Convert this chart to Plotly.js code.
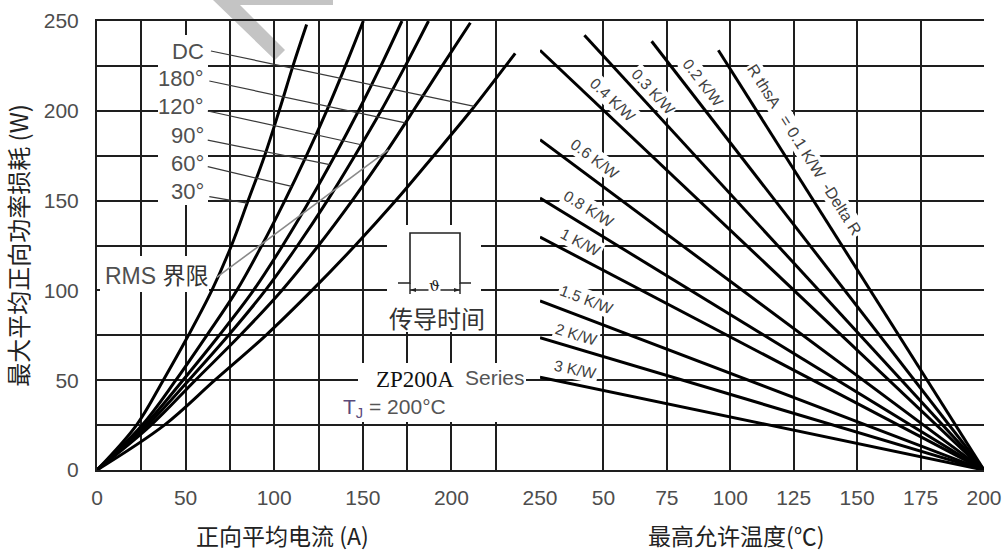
<!DOCTYPE html>
<html>
<head>
<meta charset="utf-8">
<script src="https://cdn.plot.ly/plotly-3.0.1.min.js"></script>
<style>html,body{margin:0;padding:0;background:#fff;}#chart{width:1005px;height:552px;}</style>
</head>
<body>
<div id="chart"></div>
<script>
// ---------- DATA ----------
// Left panel: max average forward power loss (W) vs average forward current (A)
const curveNames = ['30°', '60°', '90°', '120°', '180°', 'DC'];
const i30  = [0, 22.3, 37.4, 51.6, 64.8, 75.9, 85.3, 94.6, 102.8, 110.6, 118.3];
const p30  = [0, 25, 50, 75, 100, 125, 150, 175, 200, 225, 248];
const i60  = [0, 25.5, 44.5, 62, 78.9, 93, 106, 118.2, 129.6, 140.2, 150.3];
const p60  = [0, 25, 50, 75, 100, 125, 150, 175, 200, 225, 250];
const i90  = [0, 27, 48.5, 69, 88.3, 104.8, 120, 134.2, 147.6, 160.2, 172.1];
const p90  = [0, 25, 50, 75, 100, 125, 150, 175, 200, 225, 250];
const i120 = [0, 28.5, 51.8, 74.2, 95, 113.2, 130, 145.5, 160.3, 174, 187.1];
const p120 = [0, 25, 50, 75, 100, 125, 150, 175, 200, 225, 250];
const i180 = [0, 30.5, 55.5, 80.8, 104.3, 125, 144, 161.8, 178.5, 194.8, 210.7];
const p180 = [0, 25, 50, 75, 100, 125, 150, 175, 200, 225, 249];
const iDC  = [0, 38, 66.5, 95.3, 121.3, 145.7, 168.6, 190, 211, 230.6, 236];
const pDC  = [0, 25, 50, 75, 100, 125, 150, 175, 200, 225, 232];
// RMS limit line (current A, power W)
const rmsI = [67.5, 164.4];
const rmsP = [107.2, 178.3];
// Power at which each label's leader line meets its curve
const leaderP = [148.6, 157.9, 170, 181.1, 193.3, 202.5];

// Right panel: power (W) vs max allowed temperature (°C), one line per R_thSA
const rthLabels = ['R thsA   = 0.1 K/W  -Delta R', '0.2 K/W', '0.3 K/W', '0.4 K/W', '0.6 K/W', '0.8 K/W', '1 K/W', '1.5 K/W', '2 K/W', '3 K/W'];
const startT = [95.3, 69, 42.5, 25, 25, 25, 25, 25, 25, 25];
const startP = [233.7, 238.7, 242.1, 233.7, 183.9, 151.4, 129.7, 94.2, 73.7, 51.7];
const endT = 200;
const endP = 0;

// Tick labels
const leftTicks = [0, 50, 100, 150, 200, 250];
const leftTickText = ['0', '50', '100', '150', '200', '250'];
const rightTicks = [50, 75, 100, 125, 150, 175, 200];
const rightTickText = ['50', '75', '100', '125', '150', '175', '200'];
const yTicks = [0, 50, 100, 150, 200, 250];
const yTickText = ['0', '50', '100', '150', '200', '250'];

// ---------- LAYOUT HELPERS ----------
const ML = 97, MR = 21, MT = 21, MB = 82, W = 1005, H = 552;
const PW = W - ML - MR, PH = H - MT - MB;
const split = 443 / PW;
function px(x) { return (x - ML) / PW; }
function py(y) { return 1 - (y - MT) / PH; }
function dA(x) { return (x - ML) / (443 / 250); }    // left panel pixel -> A
function dW(y) { return (MT + PH - y) / (PH / 250); } // pixel -> W
function interp(xs, ys, yv) {
  for (let k = 1; k < ys.length; k++) {
    if (ys[k] >= yv) { const t = (yv - ys[k-1]) / (ys[k] - ys[k-1]); return xs[k-1] + t * (xs[k] - xs[k-1]); }
  }
  return xs[xs.length - 1];
}

const curvesI = [i30, i60, i90, i120, i180, iDC];
const curvesP = [p30, p60, p90, p120, p180, pDC];

const traces = [];
curvesI.forEach((xs, k) => {
  traces.push({ x: xs, y: curvesP[k], name: curveNames[k], type: 'scatter', mode: 'lines',
    xaxis: 'x', yaxis: 'y', line: { color: '#000', width: 3, shape: 'spline', smoothing: 1 }, hoverinfo: 'skip' });
});
traces.push({ x: rmsI, y: rmsP, name: 'RMS', type: 'scatter', mode: 'lines', xaxis: 'x', yaxis: 'y',
  line: { color: '#8a8a8a', width: 1.6 }, hoverinfo: 'skip' });
rthLabels.forEach((lab, k) => {
  traces.push({ x: [startT[k], endT], y: [startP[k], endP], name: lab, type: 'scatter', mode: 'lines',
    xaxis: 'x2', yaxis: 'y', line: { color: '#000', width: 3 }, hoverinfo: 'skip' });
});

const gridC = '#1e1e1e';
const tickFont = { family: 'Liberation Sans, Arial, sans-serif', size: 21, color: '#4d4d4d' };

const shapes = [];
// watermark fragment
shapes.push({ type: 'path', xref: 'paper', yref: 'paper', layer: 'below', fillcolor: '#c4c4c4', line: { width: 0 },
  path: `M${px(213)},${py(0)} L${px(333)},${py(0)} L${px(333)},${py(5)} L${px(240)},${py(5)} L${px(285)},${py(50)} L${px(275)},${py(60)} Z` });
// white boxes breaking the grid behind texts
function wbox(x0, y0, x1, y1) {
  shapes.push({ type: 'rect', xref: 'x', yref: 'y', layer: 'between', x0: dA(x0), x1: dA(x1), y0: dW(y1), y1: dW(y0),
    fillcolor: '#ffffff', line: { width: 0 } });
}
wbox(158, 35, 208, 205);   // curve labels column
wbox(100, 256, 209, 292);  // RMS label
wbox(387, 225, 481, 332);  // pulse symbol + 传导时间
wbox(358, 363, 526, 422);  // ZP200A Series / TJ
// leader lines from labels to curves
const leaderStart = [[63.4, 152.2], [62.5, 168.9], [62.5, 183.7], [62.5, 199.9], [63.4, 216.6], [64.3, 233.3]];
curvesI.forEach((xs, k) => {
  const pe = leaderP[k];
  shapes.push({ type: 'line', xref: 'x', yref: 'y', x0: leaderStart[k][0], y0: leaderStart[k][1],
    x1: interp(xs, curvesP[k], pe), y1: pe, line: { color: '#3a3a3a', width: 1.2 } });
});
// pulse symbol
shapes.push({ type: 'path', xref: 'paper', yref: 'paper', line: { color: '#222', width: 1.6 },
  path: `M${px(398)},${py(283)} L${px(410)},${py(283)} L${px(410)},${py(233)} L${px(460)},${py(233)} L${px(460)},${py(283)} L${px(471)},${py(283)}` });
shapes.push({ type: 'line', xref: 'paper', yref: 'paper', x0: px(410), x1: px(410), y0: py(283), y1: py(294), line: { color: '#222', width: 1.4 } });
shapes.push({ type: 'line', xref: 'paper', yref: 'paper', x0: px(460), x1: px(460), y0: py(283), y1: py(294), line: { color: '#222', width: 1.4 } });
shapes.push({ type: 'line', xref: 'paper', yref: 'paper', x0: px(410), x1: px(460), y0: py(290), y1: py(290), line: { color: '#222', width: 1.4 } });
shapes.push({ type: 'path', xref: 'paper', yref: 'paper', fillcolor: '#222', line: { width: 0 },
  path: `M${px(410)},${py(290)} L${px(416)},${py(288)} L${px(416)},${py(292)} Z` });
shapes.push({ type: 'path', xref: 'paper', yref: 'paper', fillcolor: '#222', line: { width: 0 },
  path: `M${px(460)},${py(290)} L${px(454)},${py(288)} L${px(454)},${py(292)} Z` });

const annotations = [];
const labelFont = { family: 'Liberation Sans, Arial, sans-serif', size: 22, color: '#505050' };
const labelY = [191.7, 163.3, 135.8, 106.7, 78.3, 51.7];
curveNames.forEach((n, k) => {
  annotations.push({ text: n, xref: 'paper', yref: 'paper', x: px(206), y: py(labelY[k]), xanchor: 'right', yanchor: 'middle',
    showarrow: false, font: labelFont });
});
annotations.push({ text: 'RMS <span style="color:#333">界限</span>', xref: 'paper', yref: 'paper', x: px(157), y: py(275.5), xanchor: 'center', yanchor: 'middle',
  showarrow: false, font: { family: 'Liberation Sans, Noto Sans CJK SC, sans-serif', size: 23, color: '#505050' } });
annotations.push({ text: '传导时间', xref: 'paper', yref: 'paper', x: px(436.7), y: py(317.5), xanchor: 'center', yanchor: 'middle',
  showarrow: false, font: { family: 'Noto Sans CJK SC, sans-serif', size: 24, color: '#333' } });
annotations.push({ text: 'ϑ', xref: 'paper', yref: 'paper', x: px(434), y: py(286), xanchor: 'center', yanchor: 'middle',
  showarrow: false, bgcolor: '#fff', borderpad: 0, font: { family: 'DejaVu Serif, serif', size: 15, color: '#222' } });
annotations.push({ text: 'ZP200A', xref: 'paper', yref: 'paper', x: px(415), y: py(379.5), xanchor: 'center', yanchor: 'middle',
  showarrow: false, font: { family: 'Liberation Serif, Times New Roman, serif', size: 23, color: '#111' } });
annotations.push({ text: 'Series', xref: 'paper', yref: 'paper', x: px(495), y: py(377), xanchor: 'center', yanchor: 'middle',
  showarrow: false, font: { family: 'Liberation Sans, Arial, sans-serif', size: 21, color: '#555' } });
annotations.push({ text: '<span style="color:#5a4a7a">T<sub>J</sub></span> = 200°C', xref: 'paper', yref: 'paper', x: px(394), y: py(407.5), xanchor: 'center', yanchor: 'middle',
  showarrow: false, font: { family: 'Liberation Sans, Arial, sans-serif', size: 21, color: '#555' } });
// axis titles placed under each panel
annotations.push({ text: '正向平均电流 (A)', xref: 'paper', yref: 'paper', x: px(282), y: py(535), xanchor: 'center', yanchor: 'middle',
  showarrow: false, font: { family: 'Noto Sans CJK SC, sans-serif', size: 23, color: '#222' } });
annotations.push({ text: '最高允许温度(℃)', xref: 'paper', yref: 'paper', x: px(736.5), y: py(535), xanchor: 'center', yanchor: 'middle',
  showarrow: false, font: { family: 'Noto Sans CJK SC, sans-serif', size: 23, color: '#222' } });
// right-panel line labels
const rthPos = [[129.1, 178.4, 57.6], [89.1, 215.5, 52.2], [69.7, 210.9, 47.4], [53.6, 206.2, 43.3], [46.4, 173.2, 36.6],
  [44.0, 145.4, 31.4], [41.1, 126.4, 27.6], [43.4, 95.2, 20.8], [39.5, 75.7, 16.6], [39.1, 56.2, 11.8]];
rthLabels.forEach((lab, k) => {
  annotations.push({ text: lab, xref: 'x2', yref: 'y', x: rthPos[k][0], y: rthPos[k][1], textangle: rthPos[k][2],
    showarrow: false, bgcolor: '#ffffff', borderpad: 1,
    font: { family: 'Liberation Sans, Arial, sans-serif', size: k === 0 ? 16 : 15.5, color: '#404040' } });
});

const minorGrid = { dtick: 25, showgrid: true, gridcolor: gridC, gridwidth: 2, ticks: '' };
const axBase = { showgrid: true, gridcolor: gridC, gridwidth: 2, zeroline: false, showline: true, linecolor: gridC, linewidth: 2,
  ticks: '', tickfont: tickFont, fixedrange: true };

const layout = {
  width: W, height: H,
  margin: { l: ML, r: MR, t: MT, b: MB, pad: 0 },
  paper_bgcolor: '#ffffff', plot_bgcolor: 'rgba(0,0,0,0)',
  showlegend: false,
  xaxis: Object.assign({}, axBase, { domain: [0, split], range: [0, 250], tickmode: 'array', tickvals: leftTicks, ticktext: leftTickText,
    minor: Object.assign({ tick0: 0 }, minorGrid), anchor: 'y', mirror: true, ticklabelstandoff: 8 }),
  xaxis2: Object.assign({}, axBase, { domain: [split, 1], range: [25, 200], tickmode: 'array', tickvals: rightTicks, ticktext: rightTickText,
    anchor: 'y', mirror: true, ticklabelstandoff: 8 }),
  yaxis: Object.assign({}, axBase, { range: [0, 250], tickmode: 'array', tickvals: yTicks, ticktext: yTickText, anchor: 'x',
    minor: Object.assign({ tick0: 0 }, minorGrid), ticklabelstandoff: 12,
    title: { text: '最大平均正向功率损耗 (W)', font: { family: 'Noto Sans CJK SC, sans-serif', size: 24, color: '#222' }, standoff: 12 } }),
  shapes: shapes,
  annotations: annotations
};

Plotly.newPlot('chart', traces, layout, { displayModeBar: false, staticPlot: true });
</script>
</body>
</html>
